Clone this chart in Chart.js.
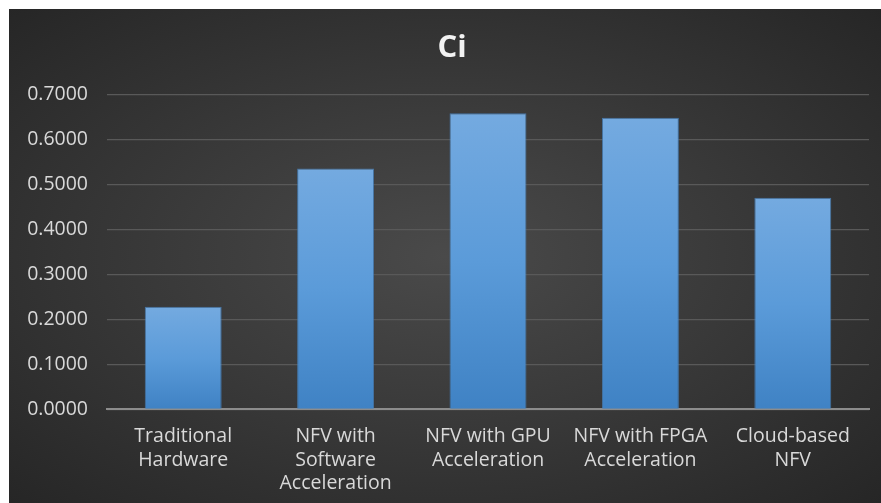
<!DOCTYPE html>
<html>
<head>
<meta charset="utf-8">
<script src="https://cdn.jsdelivr.net/npm/chart.js"></script>
<style>
  body {
    margin: 0;
    padding: 0;
    background: #ffffff;
  }

  #panel {
    position: absolute;
    left: 9px;
    top: 9px;
    width: 872px;
    height: 494px;
    background: radial-gradient(ellipse at 50% 50%, #4a4a4a 0%, #3a3a3a 45%, #262626 100%);
  }
</style>
</head>
<body>
<div id="panel">
  <canvas id="barChart" width="872" height="494"></canvas>
</div>
<script>
  // Categories (multi-line labels as shown under each bar)
  const categories = [
    ['Traditional', 'Hardware'],
    ['NFV with', 'Software', 'Acceleration'],
    ['NFV with GPU', 'Acceleration'],
    ['NFV with FPGA', 'Acceleration'],
    ['Cloud-based', 'NFV']
  ];

  // Ci values
  const ciValues = [0.228, 0.535, 0.658, 0.648, 0.470];

  // y axis range
  const yMin = 0;
  const yMax = 0.7;
  const yStep = 0.1;

  const labelFont = 'Open Sans';

  // one gradient per bar, from its top down to the zero line
  function barGradient(ctx) {
    const chart = ctx.chart;
    const yScale = chart.scales.y;
    const fallback = '#5b9bd9';
    if (!yScale || !ctx.parsed) return fallback;
    const top = yScale.getPixelForValue(ctx.parsed.y);
    const bottom = yScale.getPixelForValue(0);
    if (!Number.isFinite(top) || !Number.isFinite(bottom) || top === bottom) return fallback;
    const g = chart.ctx.createLinearGradient(0, top, 0, bottom);
    g.addColorStop(0, '#74aae0');
    g.addColorStop(0.5, '#5b9bd9');
    g.addColorStop(1, '#3f82c4');
    return g;
  }

  // the title in the original sits a little right of the canvas centre
  const titleShift = {
    id: 'titleShift',
    afterLayout(chart) {
      if (chart.titleBlock) chart.titleBlock.left = 26;
    },
  };

  const chart = new Chart(document.getElementById('barChart').getContext('2d'), {
    type: 'bar',
    data: {
      labels: categories,
      datasets: [
        {
          label: 'Ci',
          data: ciValues,
          backgroundColor: barGradient,
          borderColor: 'rgba(70, 130, 190, 0.8)',
          borderWidth: 1,
          barPercentage: 0.505,
          categoryPercentage: 1.0,
        },
      ],
    },
    options: {
      responsive: false,
      animation: false,
      layout: {
        padding: { left: 0, right: 12, top: 0, bottom: 0 },
      },
      plugins: {
        legend: { display: false },
        tooltip: { enabled: false },
        title: {
          display: true,
          text: 'Ci',
          color: '#f2f2f2',
          font: { family: labelFont, size: 31, weight: 'bold', lineHeight: 1.2 },
          padding: { top: 20.4, bottom: 27.7 },
        },
      },
      scales: {
        x: {
          grid: { display: false, drawTicks: false },
          border: { display: true, color: '#8c8c8c', width: 2 },
          ticks: {
            color: '#d9d9d9',
            font: { family: labelFont, size: 19.5, lineHeight: 1.22 },
            padding: 15,
            maxRotation: 0,
            autoSkip: false,
          },
          afterFit: (scale) => {
            scale.height = 93.7;
          },
        },
        y: {
          min: yMin,
          max: yMax,
          grid: { color: '#595959', lineWidth: 1.3, drawTicks: false },
          border: { display: false },
          ticks: {
            stepSize: yStep,
            color: '#d9d9d9',
            font: { family: labelFont, size: 19.5 },
            padding: 19,
            callback: (v) => Number(v).toFixed(4),
          },
          afterFit: (scale) => {
            scale.width = 98;
          },
        },
      },
    },
    plugins: [titleShift],
  });

  // gradients need the laid-out scale, so draw once more now that it exists
  chart.update();
</script>
</body>
</html>
